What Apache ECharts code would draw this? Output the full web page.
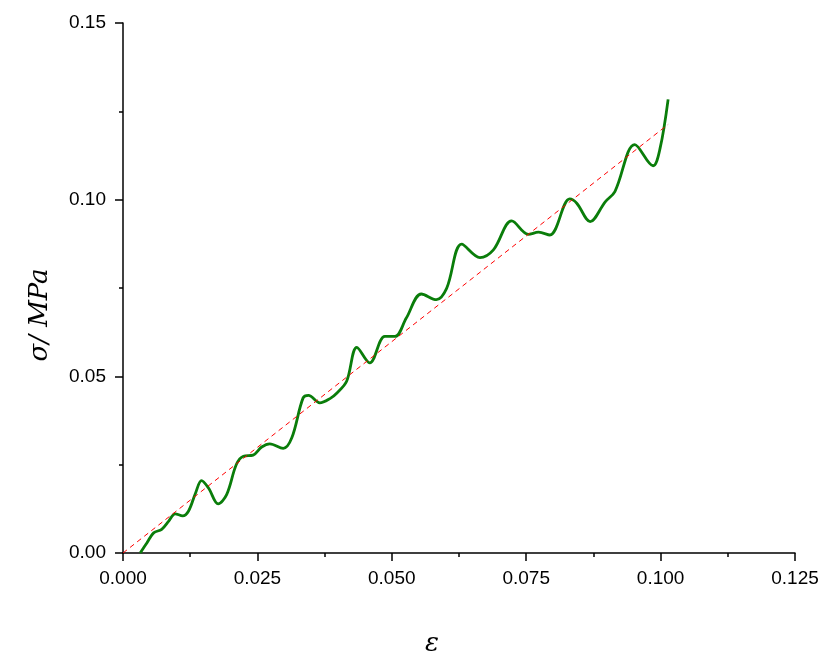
<!DOCTYPE html>
<html>
<head>
<meta charset="utf-8">
<script src="https://cdn.jsdelivr.net/npm/echarts@6/dist/echarts.min.js"></script>
<style>
  html, body { margin: 0; padding: 0; background: #fff; }
  #chart { width: 824px; height: 657px; }
</style>
</head>
<body>
<div id="chart"></div>
<script>
// strain (ε) / stress (σ, MPa)
const strain = [
  0.0032, 0.0045, 0.0057, 0.0072, 0.0085, 0.0097, 0.0111, 0.0122, 0.0135, 0.0146,
  0.0159, 0.0177, 0.0193, 0.0211, 0.0224, 0.0242, 0.0258, 0.0273, 0.0298, 0.0314,
  0.0335, 0.0345, 0.0366, 0.0385, 0.0398, 0.0416, 0.0435, 0.0459, 0.0487, 0.0506,
  0.0527, 0.0555, 0.0583, 0.0602, 0.0630, 0.0664, 0.0689, 0.0723, 0.0754, 0.0773,
  0.0794, 0.0831, 0.0844, 0.0869, 0.0897, 0.0915, 0.0952, 0.0986, 0.0999, 0.1014
];
const stress = [
  0.0000, 0.0030, 0.0057, 0.0067, 0.0090, 0.0111, 0.0105, 0.0119, 0.0170, 0.0205,
  0.0184, 0.0139, 0.0166, 0.0251, 0.0274, 0.0277, 0.0300, 0.0309, 0.0296, 0.0326,
  0.0439, 0.0446, 0.0425, 0.0437, 0.0453, 0.0486, 0.0582, 0.0538, 0.0613, 0.0613,
  0.0665, 0.0733, 0.0717, 0.0749, 0.0874, 0.0836, 0.0858, 0.0940, 0.0902, 0.0908,
  0.0900, 0.1002, 0.0990, 0.0938, 0.0994, 0.1023, 0.1156, 0.1096, 0.1145, 0.1284
];
// linear fit (red dashed)
const fitStrain = [0, 0.1014];
const fitStress = [0, 0.1213];

const chart = echarts.init(document.getElementById("chart"));

const axisText = { color: "#000", fontSize: 19, fontFamily: "Liberation Sans, Arial, sans-serif" };
const titleFont = { fontSize: 26, fontStyle: "italic", fontFamily: "DejaVu Serif, serif", fill: "#000" };

chart.setOption({
  backgroundColor: "#fff",
  animation: false,
  grid: { left: 123, right: 29, top: 23, bottom: 104 },
  // axis titles placed as in the original (off-centre)
  graphic: [
    {
      type: "text",
      x: 40,
      y: 315,
      rotation: Math.PI / 2,
      style: { text: "σ/ MPa", ...titleFont, align: "center", verticalAlign: "middle" },
    },
    {
      type: "text",
      x: 432,
      y: 644,
      style: { text: "ε", ...titleFont, align: "center", verticalAlign: "middle" },
    },
  ],
  xAxis: {
    type: "value",
    min: 0,
    max: 0.125,
    interval: 0.025,
    axisLine: { show: true, onZero: false, lineStyle: { color: "#000", width: 1.5 } },
    axisTick: { show: true, inside: false, length: 8, lineStyle: { color: "#000", width: 1.5 } },
    minorTick: { show: true, splitNumber: 2, length: 4, lineStyle: { color: "#000", width: 1.5 } },
    axisLabel: { ...axisText, margin: 16, formatter: (v) => v.toFixed(3) },
    splitLine: { show: false },
  },
  yAxis: {
    type: "value",
    min: 0,
    max: 0.15,
    interval: 0.05,
    axisLine: { show: true, onZero: false, lineStyle: { color: "#000", width: 1.5 } },
    axisTick: { show: true, inside: false, length: 8, lineStyle: { color: "#000", width: 1.5 } },
    minorTick: { show: true, splitNumber: 2, length: 4, lineStyle: { color: "#000", width: 1.5 } },
    axisLabel: { ...axisText, margin: 17, formatter: (v) => v.toFixed(2) },
    splitLine: { show: false },
  },
  series: [
    {
      name: "fit",
      type: "line",
      data: fitStrain.map((x, i) => [x, fitStress[i]]),
      showSymbol: false,
      silent: true,
      lineStyle: { color: "#ff0000", width: 1, type: [5, 4] },
      z: 3,
    },
    {
      name: "stress",
      type: "line",
      data: strain.map((x, i) => [x, stress[i]]),
      showSymbol: false,
      smooth: 0.35,
      silent: true,
      lineStyle: { color: "#0a7d0a", width: 2.8 },
      z: 2,
    },
  ],
});
</script>
</body>
</html>
